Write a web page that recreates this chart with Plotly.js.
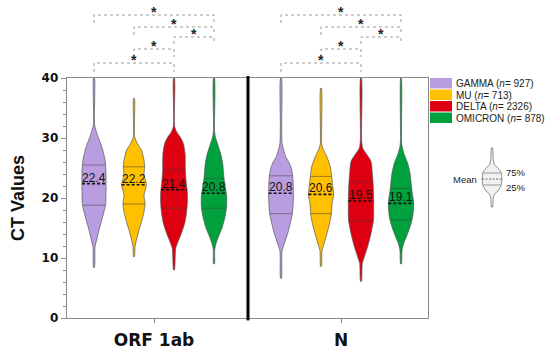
<!DOCTYPE html>
<html><head><meta charset="utf-8">
<script src="https://cdn.plot.ly/plotly-3.0.1.min.js"></script>
<style>html,body{margin:0;padding:0;background:#fff}#chart{width:550px;height:350px}</style>
</head><body><div id="chart"></div>
<script>
// ---------- data ----------
const groups = ["ORF 1ab", "N"];
const variants = ["GAMMA", "MU", "DELTA", "OMICRON"];
const sampleSizes = [927, 713, 2326, 878];

const meansORF = [22.4, 22.2, 21.4, 20.8];
const meansN = [20.8, 20.6, 19.5, 19.1];
const q75ORF = [25.5, 25.2, 24.7, 23.3];
const q25ORF = [18.8, 19.0, 18.3, 18.3];
const q75N = [23.7, 23.6, 22.7, 21.6];
const q25N = [17.4, 17.4, 16.2, 16.3];

// density profiles: [CT value, relative density]
const densORF_GAMMA = [[40,0.03],[32.2,0.04],[31.3,0.15],[30.2,0.3],[28.6,0.58],[26.3,0.83],[24.1,0.9],[20.8,0.9],[19.1,0.88],[18,0.78],[16.3,0.58],[14.7,0.38],[13,0.2],[11.9,0.08],[8.4,0.03]];
const densORF_MU = [[36.6,0.03],[30.2,0.05],[29.1,0.25],[28,0.55],[26.3,0.75],[25.2,0.8],[23.8,0.75],[22.2,0.93],[20.5,0.75],[19.1,0.83],[17.7,0.75],[16.3,0.6],[14.7,0.38],[13,0.18],[11.9,0.08],[10.2,0.03]];
const densORF_DELTA = [[40,0.03],[31.9,0.05],[31,0.2],[30.2,0.45],[29.1,0.7],[27.4,0.83],[24.7,0.85],[23,0.9],[20.8,1.0],[19.1,1.0],[17.4,0.93],[15.8,0.8],[14.1,0.55],[12.7,0.3],[11.6,0.13],[8,0.03]];
const densORF_OMICRON = [[40,0.03],[31.3,0.04],[30.2,0.1],[28.8,0.3],[27.4,0.5],[25.8,0.65],[23.3,0.75],[21.9,0.85],[20.2,0.95],[18.6,0.95],[16.9,0.83],[15.2,0.63],[13.8,0.38],[12.4,0.15],[11.3,0.05],[9,0.03]];
const densN_GAMMA = [[40,0.03],[31.9,0.05],[29.1,0.08],[28,0.2],[26.9,0.35],[25.8,0.63],[24.7,0.8],[23.6,0.88],[20.8,0.93],[18.6,0.9],[17.4,0.85],[15.8,0.7],[14.1,0.5],[12.4,0.25],[11.1,0.08],[6.6,0.03]];
const densN_MU = [[38.3,0.03],[29.1,0.05],[28.3,0.13],[26.9,0.43],[25.2,0.7],[23.6,0.8],[21.6,0.9],[20.5,0.95],[19.1,0.83],[17.4,0.78],[15.8,0.65],[14.1,0.45],[12.4,0.23],[11.3,0.08],[8.6,0.03]];
const densN_DELTA = [[40,0.03],[29.5,0.05],[28.3,0.13],[27.2,0.45],[26.1,0.75],[24.1,0.85],[22.7,0.9],[19.7,0.95],[16.3,0.93],[14.1,0.75],[11.9,0.5],[10.2,0.25],[9.1,0.1],[6.1,0.03]];
const densN_OMICRON = [[40,0.02],[29.5,0.04],[28.6,0.08],[27.2,0.25],[25.8,0.5],[24.1,0.68],[21.6,0.8],[19.1,0.95],[16.9,0.88],[15.2,0.68],[13.8,0.45],[12.4,0.2],[11.3,0.08],[9,0.03]];

// significance comparisons (variant index pairs), drawn for each gene
const sigPairs = [[0,3],[1,3],[2,3],[1,2],[0,2]];
const sigLabels = ["*","*","*","*","*"];

// ---------- styling / layout ----------
const colors = ["#b99de0", "#ffc000", "#de0010", "#00a13c"];
const L = 67, R = 428, T = 78, B = 318, W = 550, H = 350;
const px = x => (x - L) / (R - L);
const py = y => (B - y) / (B - T);
const groupOffset = [0, 4.675];
const halfMax = 0.333;
const xRange = [-0.675, 8.35];
const divider = 3.85;

const dens = [[densORF_GAMMA, densORF_MU, densORF_DELTA, densORF_OMICRON],
              [densN_GAMMA, densN_MU, densN_DELTA, densN_OMICRON]];
const means = [meansORF, meansN];
const q75 = [q75ORF, q75N];
const q25 = [q25ORF, q25N];

function interp(prof, y) {
  for (let i = 0; i < prof.length - 1; i++) {
    const [y0, d0] = prof[i], [y1, d1] = prof[i + 1];
    if (y <= y0 && y >= y1) return d0 + (d1 - d0) * (y0 - y) / (y0 - y1);
  }
  return 0;
}

const traces = [];
const annotations = [];
const shapes = [];

groups.forEach((g, gi) => {
  variants.forEach((v, vi) => {
    const pos = groupOffset[gi] + vi;
    const prof = dens[gi][vi];
    const xs = [], ys = [];
    prof.forEach(([y, d]) => { xs.push(pos + d * halfMax); ys.push(y); });
    prof.slice().reverse().forEach(([y, d]) => { xs.push(pos - d * halfMax); ys.push(y); });
    xs.push(xs[0]); ys.push(ys[0]);
    traces.push({
      type: 'scatter', mode: 'lines', x: xs, y: ys, fill: 'toself',
      fillcolor: colors[vi], line: {color: '#555', width: 0.7, shape: 'spline', smoothing: 0.7},
      hoverinfo: 'skip', showlegend: false
    });
    [q75[gi][vi], q25[gi][vi]].forEach(q => {
      const hw = interp(prof, q) * halfMax;
      traces.push({type: 'scatter', mode: 'lines', x: [pos - hw, pos + hw], y: [q, q],
        line: {color: 'rgba(60,60,60,0.7)', width: 0.7}, hoverinfo: 'skip', showlegend: false});
    });
    const m = means[gi][vi];
    const hwm = interp(prof, m) * halfMax;
    traces.push({type: 'scatter', mode: 'lines', x: [pos - hwm, pos + hwm], y: [m, m],
      line: {color: '#111', width: 1.6, dash: '3px,2px'}, hoverinfo: 'skip', showlegend: false});
    annotations.push({x: pos, y: m, xref: 'x', yref: 'y', text: m.toFixed(1), showarrow: false,
      yanchor: 'bottom', yshift: -3, font: {family: 'Liberation Sans, Arial', size: 12, color: '#111'}});
  });

  // significance brackets
  const tops = [15, 27, 37, 49, 63];
  const legs = [23, 35, 44, 57, 72];
  sigPairs.forEach(([a, b], k) => {
    const xa = groupOffset[gi] + a, xb = groupOffset[gi] + b;
    shapes.push({type: 'path', xref: 'x', yref: 'paper',
      path: `M ${xa},${py(legs[k])} L ${xa},${py(tops[k])} L ${xb},${py(tops[k])} L ${xb},${py(legs[k])}`,
      line: {color: '#9a9a9a', width: 1, dash: 'dot'}});
    annotations.push({x: (xa + xb) / 2, y: py(tops[k]), xref: 'x', yref: 'paper', text: sigLabels[k],
      showarrow: false, yanchor: 'bottom', yshift: -7,
      font: {family: 'Liberation Sans, Arial', size: 14, color: '#222', weight: 'bold'}});
  });
});

// thick divider between genes
shapes.push({type: 'line', xref: 'x', yref: 'paper', x0: divider, x1: divider, y0: -0.01, y1: 1.008,
  line: {color: '#000', width: 3}});

// legend
const legTop = [78, 89.5, 101, 112.5];
variants.forEach((v, vi) => {
  shapes.push({type: 'rect', xref: 'paper', yref: 'paper', x0: px(430), x1: px(452),
    y0: py(legTop[vi]), y1: py(legTop[vi] + 10.5), fillcolor: colors[vi], line: {width: 0}});
  annotations.push({xref: 'paper', yref: 'paper', x: px(454), y: py(legTop[vi] + 5.5),
    xanchor: 'left', yanchor: 'middle', showarrow: false,
    text: `${v} (<i>n</i>= ${sampleSizes[vi]})`,
    font: {family: 'Liberation Sans, Arial', size: 10, color: '#222'}});
});

// mean / quartile key illustration
const cx = 492;
const keyProf = [[148,0.8],[160,1.2],[165,2.5],[168,6],[172,9],[179,10],[186,9],[191,6],[194,2.5],[198,1.2],[207,0.8]];
let kp = '';
keyProf.forEach(([y, w], i) => { kp += (i ? ' L ' : 'M ') + px(cx + w) + ',' + py(y); });
keyProf.slice().reverse().forEach(([y, w]) => { kp += ' L ' + px(cx - w) + ',' + py(y); });
kp += ' Z';
shapes.push({type: 'path', xref: 'paper', yref: 'paper', path: kp, fillcolor: '#f2f2f2',
  line: {color: '#777', width: 0.8}});
shapes.push({type: 'line', xref: 'paper', yref: 'paper', x0: px(cx - 8.7), x1: px(cx + 8.7), y0: py(173), y1: py(173), line: {color: '#777', width: 0.7}});
shapes.push({type: 'line', xref: 'paper', yref: 'paper', x0: px(cx - 8.7), x1: px(cx + 8.7), y0: py(185), y1: py(185), line: {color: '#777', width: 0.7}});
shapes.push({type: 'line', xref: 'paper', yref: 'paper', x0: px(cx - 10), x1: px(cx + 10), y0: py(179), y1: py(179), line: {color: '#444', width: 0.8, dash: '2px,1.5px'}});
annotations.push({xref: 'paper', yref: 'paper', x: px(479), y: py(179), xanchor: 'right', yanchor: 'middle',
  showarrow: false, text: 'Mean', font: {family: 'Liberation Sans, Arial', size: 9.5, color: '#222'}});
annotations.push({xref: 'paper', yref: 'paper', x: px(504), y: py(172), xanchor: 'left', yanchor: 'middle',
  showarrow: false, text: '75%', font: {family: 'Liberation Sans, Arial', size: 9.5, color: '#222'}});
annotations.push({xref: 'paper', yref: 'paper', x: px(504), y: py(187), xanchor: 'left', yanchor: 'middle',
  showarrow: false, text: '25%', font: {family: 'Liberation Sans, Arial', size: 9.5, color: '#222'}});

const groupCenters = groups.map((g, gi) => groupOffset[gi] + (variants.length - 1) / 2);

const layout = {
  width: W, height: H,
  margin: {l: L, r: W - R, t: T, b: H - B, pad: 0},
  paper_bgcolor: '#fff', plot_bgcolor: '#fff',
  showlegend: false,
  xaxis: {range: xRange, tickvals: groupCenters, ticktext: groups, showgrid: false, zeroline: false,
    showline: true, linecolor: '#8a8a8a', linewidth: 1.3, mirror: true,
    ticks: 'outside', ticklen: 4, tickcolor: '#8a8a8a', tickwidth: 1, ticklabelstandoff: 2,
    tickfont: {family: 'DejaVu Sans', size: 17, color: '#111', weight: 'bold'}, fixedrange: true},
  yaxis: {range: [0, 40], tickvals: [0, 10, 20, 30, 40], showgrid: false, zeroline: false,
    showline: true, linecolor: '#8a8a8a', linewidth: 1.3, mirror: true,
    ticks: 'outside', ticklen: 5, tickcolor: '#8a8a8a', tickwidth: 1,
    minor: {dtick: 2, ticks: 'outside', ticklen: 3, tickcolor: '#8a8a8a', tickwidth: 1},
    tickfont: {family: 'DejaVu Sans', size: 12, color: '#111', weight: 'bold'},
    title: {text: 'CT Values', standoff: 12, font: {family: 'Liberation Sans, Arial', size: 18, color: '#111', weight: 'bold'}},
    fixedrange: true},
  shapes: shapes,
  annotations: annotations
};

Plotly.newPlot('chart', traces, layout, {displayModeBar: false, staticPlot: true});
</script>
</body></html>
